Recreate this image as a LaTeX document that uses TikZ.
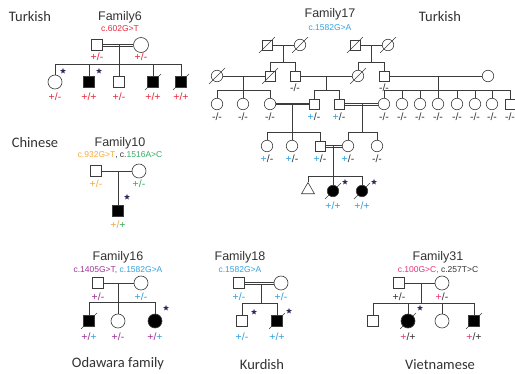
\documentclass[tikz,border=0pt]{standalone}
\usepackage{fontspec}
\setmainfont{Liberation Sans}
\newfontfamily\popfont{Carlito}
\usetikzlibrary{shapes.geometric,backgrounds}
\definecolor{cline}{RGB}{60,60,60}
\definecolor{ctext}{RGB}{50,50,50}
\definecolor{cred}{RGB}{232,40,60}
\definecolor{cblue}{RGB}{50,160,225}
\definecolor{corange}{RGB}{245,170,60}
\definecolor{cgreen}{RGB}{50,170,100}
\definecolor{cpurple}{RGB}{160,50,150}
\definecolor{cpink}{RGB}{230,50,120}
\newcommand{\dead}[2][8]{\draw[dline] ([shift={(-#1,#1)}]#2.center) -- ([shift={(#1,-#1)}]#2.center);}
\newcommand{\consang}[2]{%
  \draw ([yshift=1.1pt]#1.east) -- ([yshift=1.1pt]#2.west);
  \draw ([yshift=-1.1pt]#1.east) -- ([yshift=-1.1pt]#2.west);}
\begin{document}
\begin{tikzpicture}[x=1pt, y=-1pt, line width=0.6pt, draw=cline, text=ctext,
  male/.style={draw=cline, rectangle, minimum size=11pt, inner sep=0pt},
  female/.style={draw=cline, circle, minimum size=14pt, inner sep=0pt},
  smale/.style={male, minimum size=10pt},
  sfemale/.style={female, minimum size=11.5pt},
  aff/.style={fill=black},
  dline/.style={draw=cline, line width=0.5pt},
  heavy/.style={line width=1.5pt},
  mark5/.style={star, star points=5, star point ratio=2.3, fill=ctext!80!blue, minimum size=6pt, inner sep=0pt},
  gt/.style={font=\fontsize{10.5}{11}\selectfont, inner sep=0pt},
  fam/.style={font=\fontsize{12.5}{13}\selectfont, inner sep=0pt},
  mut/.style={font=\fontsize{8.5}{9}\selectfont, inner sep=0pt},
  pop/.style={font=\popfont\fontsize{14.5}{15}\selectfont, inner sep=0pt}]
\useasboundingbox (0,0) rectangle (515,374);
%%%%%%%%%%%%%%%%%%%%%%%%%%%%%%% Family6
\node[pop] (t6) at (30,17) {Turkish};
\node[fam] (f6) at (120,17) {Family6};
\node[mut, text=cred] (f6mut) at (120,29) {c.602G>T};
\node[male] (f6fa) at (97,45) {};
\node[female, minimum size=15pt] (f6mo) at (141,45) {};
\coordinate (f6mid) at (119,45);
\coordinate (f6sib) at (119,64);
\node[female] (f6k1) at (55,82) {};
\node[male, aff] (f6k2) at (89,82) {};
\node[male] (f6k3) at (119,82) {};
\node[male, aff] (f6k4) at (153,82) {};
\node[male, aff] (f6k5) at (181,82) {};
\consang{f6fa}{f6mo}
\draw (f6mid) -- (f6sib);
\foreach \k in {1,...,5} \draw (f6sib) -| (f6k\k);
\node[gt, text=cred] (f6gfa) at (97,57) {+/-};
\node[gt, text=cred] (f6gmo) at (141,57) {+/-};
\node[gt, text=cred] (f6g1) at (55,97) {+/-};
\node[gt, text=cred] (f6g2) at (89,97) {+/+};
\node[gt, text=cred] (f6g3) at (119,97) {+/-};
\node[gt, text=cred] (f6g4) at (153,97) {+/+};
\node[gt, text=cred] (f6g5) at (181,97) {+/+};
\node[mark5] (f6s1) at (63,71) {};
\node[mark5] (f6s2) at (99,71) {};
%%%%%%%%%%%%%%%%%%%%%%%%%%%%%%% Family17
\node[fam] (f17) at (330,14) {Family17};
\node[mut, text=cblue] (f17mut) at (330,28) {c.1582G>A};
\node[pop] (t17) at (440,17) {Turkish};
% generation I
\node[smale] (a1) at (267,45) {};
\node[sfemale] (a2) at (300,45) {};
\node[smale] (a3) at (355,45) {};
\node[sfemale] (a4) at (388,45) {};
% generation II
\node[sfemale] (b1) at (217,76) {};
\node[smale] (b2) at (270,76) {};
\node[smale] (b3) at (295,76) {};
\node[sfemale] (b4) at (358,76) {};
\node[smale] (b5) at (384,76) {};
\node[sfemale] (b6) at (488,76) {};
% generation III
\node[sfemale] (c1) at (217,104) {};
\node[sfemale] (c2) at (243,104) {};
\node[sfemale] (c3) at (270,104) {};
\node[smale] (c4) at (314,104) {};
\node[smale] (c5) at (339,104) {};
\node[sfemale] (c6) at (384,104) {};
\node[sfemale] (c7) at (402,104) {};
\node[sfemale] (c8) at (420,104) {};
\node[sfemale] (c9) at (438,104) {};
\node[sfemale] (c10) at (457,104) {};
\node[sfemale] (c11) at (475,104) {};
\node[sfemale] (c12) at (492,104) {};
\node[smale] (c13) at (510,104) {};
% generation IV
\node[sfemale] (d1) at (267,146) {};
\node[sfemale] (d2) at (292,146) {};
\node[smale] (d3) at (320,146) {};
\node[sfemale] (d4) at (348,146) {};
\node[sfemale] (d5) at (377,146) {};
% generation V
\node[draw=cline, regular polygon, regular polygon sides=3, minimum size=15pt, inner sep=0pt] (e1) at (308,190) {};
\node[sfemale, aff] (e2) at (333,191) {};
\node[sfemale, aff] (e3) at (362,191) {};
\coordinate (a12mid) at (283,45);  \coordinate (a12sib) at (283,62);
\coordinate (a34mid) at (371,45);  \coordinate (a34sib) at (371,62);
\coordinate (b12mid) at (243,76);  \coordinate (b12sib) at (243,90);
\coordinate (b34mid) at (326,76);  \coordinate (b34sib) at (326,90);
\coordinate (b56mid) at (438,76);  \coordinate (b56sib) at (438,90);
\coordinate (c34mid) at (292,104); \coordinate (c34sib) at (292,132);
\coordinate (c56mid) at (362,104); \coordinate (c56sib) at (362,132);
\coordinate (d34mid) at (333,146); \coordinate (d34sib) at (333,176);
\draw (a1) -- (a2);
\draw (a12mid) -- (a12sib);
\draw (a12sib) -| (b2);
\draw (a12sib) -| (b3);
\draw (a3) -- (a4);
\draw (a34mid) -- (a34sib);
\draw (a34sib) -| (b4);
\draw (a34sib) -| (b5);
\draw (b1) -- (b2);
\draw (b12mid) -- (b12sib);
\foreach \k in {1,2,3} \draw (b12sib) -| (c\k);
\draw (b3) -- (b4);
\draw (b34mid) -- (b34sib);
\draw (b34sib) -| (c4);
\draw (b34sib) -| (c5);
\draw (b5) -- (b6);
\draw (b56mid) -- (b56sib);
\foreach \k in {6,...,13} \draw (b56sib) -| (c\k);
\draw[heavy] (c3) -- (c4);
\draw (c34mid) -- (c34sib);
\foreach \k in {1,2,3} \draw (c34sib) -| (d\k);
\consang{c5}{c6}
\draw (c56mid) -- (c56sib);
\draw (c56sib) -| (d4);
\draw (c56sib) -| (d5);
\consang{d3}{d4}
\draw (d34mid) -- (d34sib);
\foreach \k in {1,2,3} \draw (d34sib) -| (e\k);
\node[gt] (gb3) at (295,88) {-/-};
\node[gt] (gb5) at (384,88) {-/-};
\foreach \k/\x in {1/217,2/243,3/270,6/384,7/402,8/420,9/438,10/457,11/475,12/492,13/510}
  \node[gt] (gc\k) at (\x,117) {-/-};
\node[gt] (gc4) at (314,117) {{\color{cblue}+}/-};
\node[gt] (gc5) at (339,117) {{\color{cblue}+}/-};
\foreach \k/\x in {1/267,2/292,3/320,4/348}
  \node[gt] (gd\k) at (\x,159) {{\color{cblue}+}/-};
\node[gt] (gd5) at (377,159) {-/-};
\node[gt, text=cblue] (ge2) at (333,206) {+/+};
\node[gt, text=cblue] (ge3) at (362,206) {+/+};
\node[mark5] (se2) at (345,182) {};
\node[mark5] (se3) at (374,182) {};
%%%%%%%%%%%%%%%%%%%%%%%%%%%%%%% Family10
\node[pop] (t10) at (35,143) {Chinese};
\node[fam] (f10) at (120,143) {Family10};
\node[mut] (f10mut) at (120,155) {{\color{corange}c.932G>T}, c.{\color{cgreen}1516A>C}};
\node[male] (f10fa) at (96,171) {};
\node[female] (f10mo) at (139,171) {};
\node[male, aff] (f10k1) at (118,211) {};
\coordinate (f10mid) at (118,171);
\draw (f10fa) -- (f10mo);
\draw (f10mid) -- (f10k1);
\node[gt, text=corange] (f10gfa) at (96,184) {+/-};
\node[gt, text=cgreen] (f10gmo) at (139,184) {+/-};
\node[gt] (f10g1) at (118,225) {{\color{corange}+/}{\color{cgreen}+}};
\node[mark5] (f10s1) at (127,197) {};
%%%%%%%%%%%%%%%%%%%%%%%%%%%%%%% Family16
\node[fam] (f16) at (118,257) {Family16};
\node[mut] (f16mut) at (118,270) {{\color{cpurple}c.1405G>T,} {\color{cblue}c.1582G>A}};
\node[male] (f16fa) at (98,283) {};
\node[female] (f16mo) at (141,283) {};
\coordinate (f16mid) at (118,283);
\coordinate (f16sib) at (118,302);
\node[male, aff] (f16k1) at (89,321) {};
\node[female] (f16k2) at (118,321) {};
\node[female, aff] (f16k3) at (155,321) {};
\draw (f16fa) -- (f16mo);
\draw (f16mid) -- (f16sib);
\foreach \k in {1,2,3} \draw (f16sib) -| (f16k\k);
\node[gt, text=cpurple] (f16gfa) at (98,297) {+/-};
\node[gt, text=cblue] (f16gmo) at (141,297) {+/-};
\node[gt] (f16g1) at (89,337) {{\color{cpurple}+/}{\color{cblue}+}};
\node[gt, text=cpurple] (f16g2) at (118,337) {+/-};
\node[gt] (f16g3) at (155,337) {{\color{cpurple}+/}{\color{cblue}+}};
\node[mark5] (f16s3) at (166,308) {};
\node[pop] (t16) at (118,364) {Odawara family};
%%%%%%%%%%%%%%%%%%%%%%%%%%%%%%% Family18
\node[fam] (f18) at (240,257) {Family18};
\node[mut, text=cblue] (f18mut) at (240,270) {c.1582G>A};
\node[male] (f18fa) at (239,283) {};
\node[female] (f18mo) at (281,283) {};
\coordinate (f18mid) at (261,284);
\coordinate (f18sib) at (261,303);
\node[male] (f18k1) at (242,321) {};
\node[male, aff] (f18k2) at (277,321) {};
\consang{f18fa}{f18mo}
\draw (f18mid) -- (f18sib);
\draw (f18sib) -| (f18k1);
\draw (f18sib) -| (f18k2);
\node[gt, text=cblue] (f18gfa) at (239,297) {+/-};
\node[gt, text=cblue] (f18gmo) at (281,297) {+/-};
\node[gt, text=cblue] (f18g1) at (242,337) {+/-};
\node[gt, text=cblue] (f18g2) at (277,337) {+/+};
\node[mark5] (f18s1) at (254,312) {};
\node[mark5] (f18s2) at (289,311) {};
\node[pop] (t18) at (262,365) {Kurdish};
%%%%%%%%%%%%%%%%%%%%%%%%%%%%%%% Family31
\node[fam] (f31) at (438,257) {Family31};
\node[mut] (f31mut) at (438,270) {{\color{cpink}c.100G>C,} c.257T>C};
\node[male] (f31fa) at (399,283) {};
\node[female] (f31mo) at (442,283) {};
\coordinate (f31mid) at (421,283);
\coordinate (f31sib) at (421,303);
\node[male] (f31k1) at (373,321) {};
\node[female, aff] (f31k2) at (408,321) {};
\node[female] (f31k3) at (442,321) {};
\node[male, aff] (f31k4) at (474,321) {};
\draw (f31fa) -- (f31mo);
\draw (f31mid) -- (f31sib);
\foreach \k in {1,...,4} \draw (f31sib) -| (f31k\k);
\node[gt] (f31gfa) at (399,297) {+/-};
\node[gt] (f31gmo) at (442,297) {{\color{cpink}+}/-};
\node[gt] (f31g2) at (408,337) {{\color{cpink}+}/+};
\node[gt] (f31g4) at (474,337) {{\color{cpink}+}/+};
\node[mark5] (f31s2) at (420,308) {};
\node[pop] (t31) at (440,365) {Vietnamese};
%%%%%%%%%%%%%%%%%%%%%%%%%%%%%%% deceased
\begin{pgfonlayer}{background}
\dead{a1} \dead{a2} \dead{a3} \dead{a4}
\dead{b1} \dead{b2} \dead{b4}
\dead{f6k4} \dead{f6k5} \dead{f16k1} \dead{f18k2}
\dead{f31k2} \dead{f31k4} \dead{e2} \dead{e3}
\end{pgfonlayer}
\end{tikzpicture}
\end{document}
